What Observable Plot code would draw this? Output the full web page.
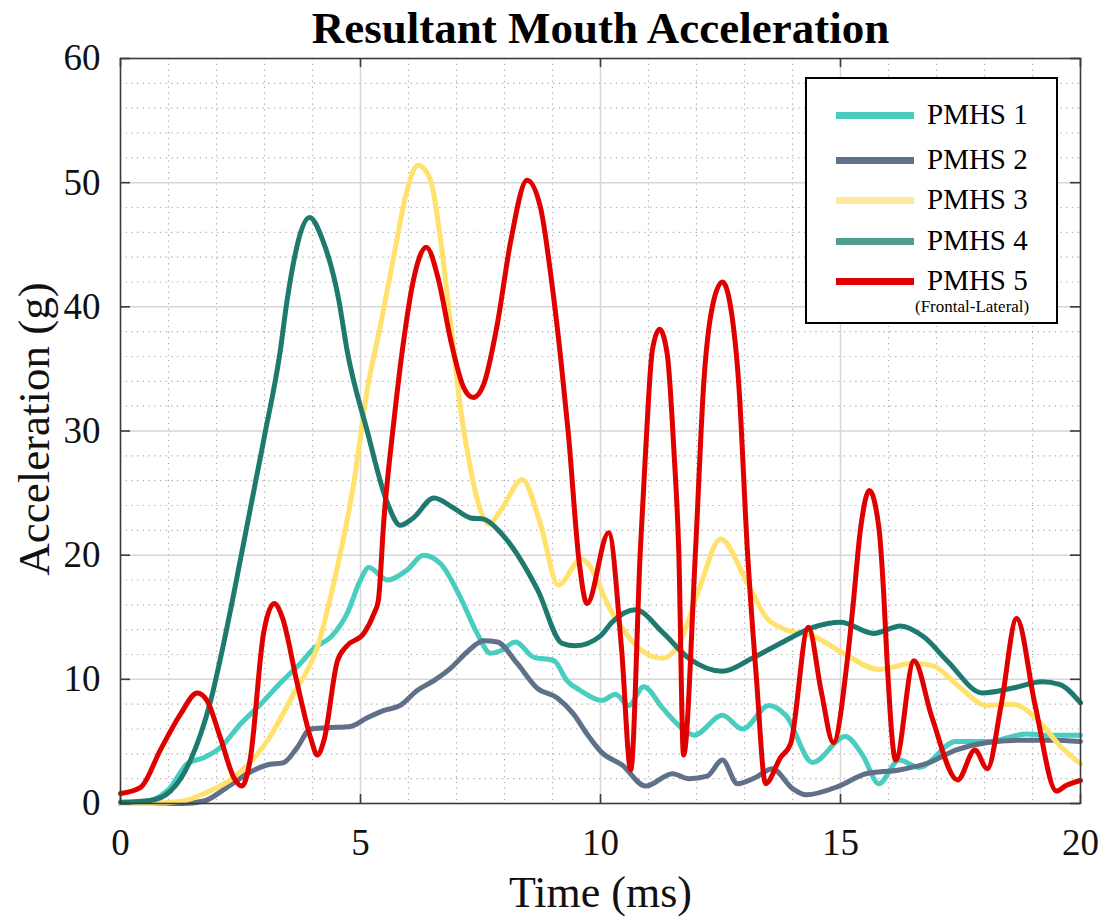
<!DOCTYPE html>
<html>
<head>
<meta charset="utf-8">
<script src="https://cdn.jsdelivr.net/npm/d3@7"></script>
<script src="https://cdn.jsdelivr.net/npm/@observablehq/plot@0.6"></script>
<style>
  html, body { margin: 0; padding: 0; background: #fff; }
  #wrap { position: relative; width: 1107px; height: 919px; }
  #legend {
    position: absolute; left: 805px; top: 77px; width: 249px; height: 243px;
    border: 2px solid #000; background: #fff; box-sizing: content-box;
    font-family: "Liberation Serif", "Times New Roman", serif; color: #000;
  }
  .row { position: absolute; left: 0; height: 0; }
  .sw { position: absolute; left: 29px; width: 78px; height: 7px; margin-top: -3.5px; }
  .lb { position: absolute; left: 120px; font-size: 29px; line-height: 29px; margin-top: -15px; white-space: nowrap; }
  .sub { position: absolute; left: 108px; top: 219px; font-size: 17px; line-height: 17px; white-space: nowrap; }
</style>
</head>
<body>
<div id="wrap"><div id="chart"></div><div id="legend"></div></div>
<script>
// ---- data ----
const seriesNames = ["PMHS 1", "PMHS 2", "PMHS 3", "PMHS 4", "PMHS 5"];
const seriesColors = ["#48CDBF", "#607088", "#FFE16C", "#1E7A6F", "#E00000"];
const legendColors = ["#48CDBF", "#607088", "#FFE89A", "#529B90", "#E00000"];

const t1 = [0,0.62,1.04,1.39,1.74,2.08,2.5,2.92,3.33,3.75,4.03,4.38,4.72,5.0,5.17,5.56,5.97,6.31,6.67,7.08,7.43,7.71,7.92,8.23,8.6,9.03,9.3,9.58,10.03,10.31,10.59,10.9,11.29,11.63,11.95,12.54,12.96,13.51,13.86,14.42,15.1,15.46,15.8,16.22,16.64,17.4,18.1,18.87,19.28,20];
const g1 = [0,0.25,1.3,3.2,3.7,4.5,6.4,8.0,9.7,11.3,12.5,13.4,15.3,18.0,19.0,18.0,18.8,20.0,19.3,16.6,13.7,12.1,12.3,13.0,11.8,11.5,9.9,9.1,8.3,8.8,7.9,9.4,7.7,6.3,5.5,7.1,6.0,7.9,7.1,3.3,5.4,3.9,1.6,3.5,2.9,5.0,5.0,5.6,5.5,5.5];

const t2 = [0,1.3,1.74,2.22,2.64,3.05,3.4,3.68,3.96,4.31,4.79,5.14,5.49,5.83,6.18,6.53,6.88,7.22,7.57,7.85,8.26,8.68,9.1,9.44,9.72,10.03,10.45,10.94,11.5,11.84,12.22,12.54,12.85,13.23,13.58,14.0,14.28,14.97,15.53,16.22,16.85,17.4,18.03,18.8,19.4,20];
const g2 = [0,0,0.2,1.3,2.4,3.1,3.3,4.5,6.0,6.1,6.2,6.9,7.5,7.9,9.1,9.9,10.9,12.2,13.1,13.0,11.3,9.3,8.5,7.2,5.6,4.1,3.1,1.4,2.4,2.0,2.2,3.5,1.6,2.1,2.8,1.2,0.7,1.4,2.4,2.7,3.3,4.3,4.9,5.1,5.1,5.0];

const t3 = [0,0.6,1.3,1.8,2.36,3.05,3.6,4.1,4.44,4.86,5.14,5.42,5.69,5.97,6.2,6.46,6.67,6.88,7.08,7.29,7.5,7.67,7.92,8.37,8.75,9.12,9.6,10.28,10.8,11.29,11.63,12.05,12.5,13.03,13.45,13.86,14.42,15.1,15.8,16.5,16.92,17.5,18.03,18.59,19.14,19.56,20];
const g3 = [0,0,0.2,0.9,2.1,5.0,8.8,12.6,17.7,25.8,33.3,38.6,44.0,49.4,51.4,50.2,45.3,38.6,31.9,27.0,23.6,22.5,23.6,26.1,22.5,17.6,19.7,15.1,12.5,11.7,12.8,17.2,21.3,18.0,15.0,14.0,13.5,12.0,10.8,11.3,11.1,9.3,7.9,8.0,6.6,4.7,3.2];

const t4 = [0,0.62,1.04,1.46,1.88,2.15,2.33,2.98,3.33,3.47,3.94,4.2,4.55,4.72,5.14,5.56,5.83,6.1,6.53,6.94,7.29,7.57,7.92,8.69,9.2,9.48,10.0,10.24,10.73,11.29,11.84,12.54,13.16,13.75,14.44,15.0,15.69,16.25,16.74,17.22,17.96,18.59,19.2,19.56,20];
const g4 = [0.1,0.25,1.0,3.5,8.3,12.9,16.3,29.2,36.5,40.5,47.2,45.5,40.5,36.5,30.0,24.2,22.4,23.0,24.6,23.8,23.0,22.9,21.8,17.2,12.9,12.7,13.5,14.6,15.6,13.8,11.7,10.65,11.7,12.9,14.2,14.6,13.7,14.3,13.4,11.5,8.9,9.3,9.8,9.6,8.1];

const t5 = [0,0.42,0.83,1.25,1.6,1.8,2.08,2.36,2.53,2.7,2.98,3.2,3.37,3.68,3.96,4.1,4.24,4.52,4.72,5.07,5.28,5.37,5.49,5.69,5.9,6.1,6.37,6.63,6.88,7.15,7.35,7.57,7.85,8.13,8.47,8.75,8.96,9.17,9.33,9.56,9.72,10.17,10.44,10.63,10.83,10.94,11.08,11.23,11.39,11.53,11.63,11.73,11.98,12.15,12.33,12.54,12.71,12.88,13.06,13.25,13.44,13.75,13.96,14.33,14.6,14.85,15.14,15.25,15.42,15.6,15.8,15.9,15.97,16.15,16.53,16.9,17.44,17.8,18.06,18.35,18.67,19.05,19.5,19.7,20];
const g5 = [0.8,1.3,4.3,7.2,8.9,8.3,5.3,2.1,1.4,3.5,13.7,16.1,15.0,9.7,5.3,3.9,5.1,11.5,12.7,13.7,15.3,16.3,23.0,30.6,37.3,42.1,44.8,42.1,37.3,33.5,32.7,33.8,38.6,45.3,50.2,48.0,42.7,35.9,29.8,19.3,16.1,21.8,12.4,2.7,20.4,28.4,36.5,38.2,36.2,28.4,20.4,3.9,20.4,33.8,40.0,42.0,40.0,33.8,20.4,10.0,1.6,3.7,4.8,14.2,9.0,4.9,11.5,15.5,22.2,25.2,22.2,16.9,11.5,3.5,11.5,7.0,1.9,4.3,2.8,8.0,14.9,8.0,1.0,1.45,1.85];

const xMajor = [0, 5, 10, 15, 20];
const yMajor = [0, 10, 20, 30, 40, 50, 60];
const xMinor = d3.range(0, 21, 1).filter(v => v % 5 !== 0);
const yMinor = d3.range(0, 61, 2).filter(v => v % 10 !== 0);

const title = "Resultant Mouth Acceleration";
const xLabel = "Time (ms)";
const yLabel = "Acceleration (g)";
const subNote = "(Frontal-Lateral)";

// ---- build tidy table ----
const T = [t1, t2, t3, t4, t5], G = [g1, g2, g3, g4, g5];
const rows = [];
T.forEach((ts, i) => ts.forEach((t, j) => rows.push({series: seriesNames[i], t, g: G[i][j]})));

const serif = "Liberation Serif, Times New Roman, serif";
const W = 1107, H = 919, mL = 120, mR = 27, mT = 58, mB = 116;
const fw = W - mL - mR, fh = H - mT - mB;

const chart = Plot.plot({
  width: W, height: H,
  marginLeft: mL, marginRight: mR, marginTop: mT, marginBottom: mB,
  style: {fontFamily: serif, background: "#fff", overflow: "visible"},
  x: {domain: [0, 20], axis: null},
  y: {domain: [0, 60], axis: null},
  color: {domain: seriesNames, range: seriesColors},
  marks: [
    Plot.gridX(xMinor, {stroke: "#a8a8a8", strokeOpacity: 1, strokeWidth: 1.2, strokeDasharray: "1.2,4.5"}),
    Plot.gridY(yMinor, {stroke: "#a8a8a8", strokeOpacity: 1, strokeWidth: 1.2, strokeDasharray: "1.2,4.5"}),
    Plot.gridX(xMajor.slice(1, -1), {stroke: "#d6d6d6", strokeOpacity: 1, strokeWidth: 1.5}),
    Plot.gridY(yMajor.slice(1, -1), {stroke: "#d6d6d6", strokeOpacity: 1, strokeWidth: 1.5}),
    Plot.line(rows, {x: "t", y: "g", z: "series", stroke: "series", curve: "monotone-x", strokeWidth: 5, strokeLinejoin: "round", strokeLinecap: "round"}),
    Plot.frame({stroke: "#3a3a3a", strokeWidth: 1.6}),
    Plot.tickX(xMajor, {x: d => d, insetTop: fh - 9, stroke: "#3a3a3a", strokeWidth: 1.6}),
    Plot.tickX(xMajor, {x: d => d, insetBottom: fh - 9, stroke: "#3a3a3a", strokeWidth: 1.6}),
    Plot.tickY(yMajor, {y: d => d, insetRight: fw - 10, stroke: "#3a3a3a", strokeWidth: 1.6}),
    Plot.tickY(yMajor, {y: d => d, insetLeft: fw - 10, stroke: "#3a3a3a", strokeWidth: 1.6}),
    Plot.text(xMajor, {x: d => d, frameAnchor: "bottom", lineAnchor: "middle", dy: 40, text: d => String(d), fontSize: 37, fill: "#111"}),
    Plot.text(yMajor, {y: d => d, frameAnchor: "left", lineAnchor: "middle", dx: -20, textAnchor: "end", text: d => String(d), fontSize: 37, fill: "#111"}),
    Plot.text([xLabel], {frameAnchor: "bottom", lineAnchor: "middle", dy: 89, fontSize: 44, fill: "#111"}),
    Plot.text([yLabel], {frameAnchor: "left", lineAnchor: "middle", textAnchor: "middle", dx: -86, dy: -2, rotate: -90, fontSize: 45, fill: "#111"}),
    Plot.text([title], {frameAnchor: "top", lineAnchor: "middle", dy: -30, fontSize: 45, fontWeight: "bold", fill: "#000"})
  ]
});
document.getElementById("chart").appendChild(chart);

// ---- legend ----
const legend = document.getElementById("legend");
const rowY = [36, 81, 121, 162, 202];
seriesNames.forEach((name, i) => {
  const r = document.createElement("div");
  r.className = "row";
  r.style.top = rowY[i] + "px";
  r.innerHTML = `<div class="sw" style="background:${legendColors[i]}"></div><div class="lb">${name}</div>`;
  legend.appendChild(r);
});
const s = document.createElement("div");
s.className = "sub"; s.textContent = subNote;
legend.appendChild(s);
</script>
</body>
</html>
